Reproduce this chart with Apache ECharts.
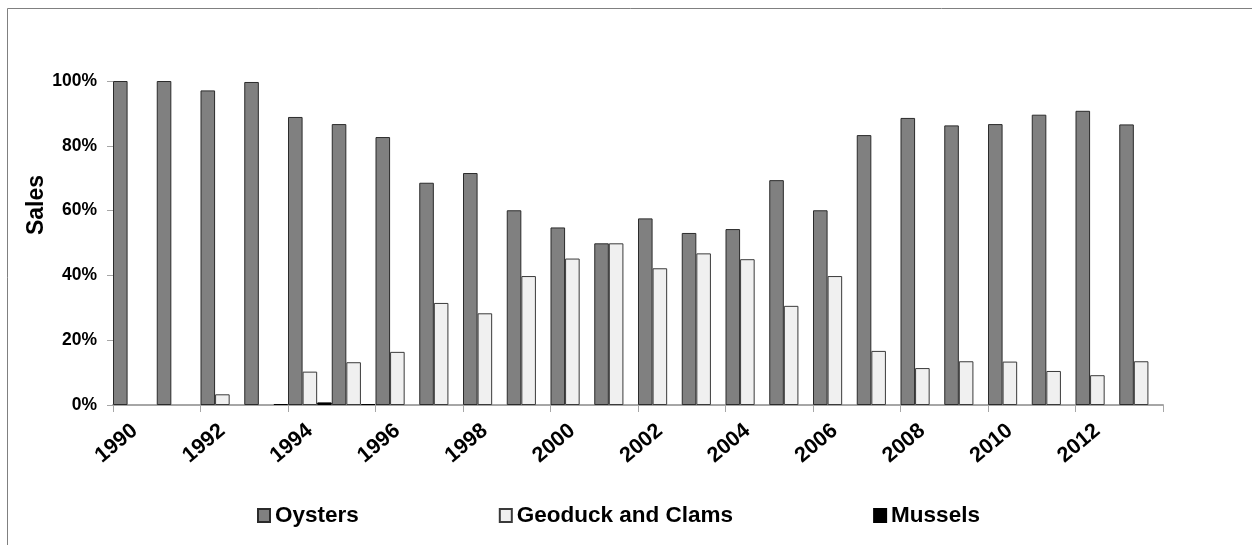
<!DOCTYPE html>
<html>
<head>
<meta charset="utf-8">
<script src="https://cdn.jsdelivr.net/npm/echarts@6/dist/echarts.min.js"></script>
<style>
  html, body { margin: 0; padding: 0; background: #fff; }
  #chart { width: 1252px; height: 545px; }
</style>
</head>
<body>
<div id="chart"></div>
<script>
const years = ['1990', '1991', '1992', '1993', '1994', '1995', '1996', '1997', '1998', '1999', '2000', '2001',
  '2002', '2003', '2004', '2005', '2006', '2007', '2008', '2009', '2010', '2011', '2012', '2013']

const oysters = [100, 100, 97.1, 99.7, 88.9, 86.7, 82.7, 68.6, 71.6, 60.1, 54.8, 49.9,
  57.6, 53.1, 54.3, 69.4, 60.1, 83.3, 88.6, 86.3, 86.7, 89.6, 90.8, 86.6]

const geoduckClams = [0, 0, 3.3, 0, 10.3, 13.2, 16.4, 31.5, 28.3, 39.8, 45.2, 49.9,
  42.2, 46.8, 45.0, 30.6, 39.8, 16.7, 11.4, 13.5, 13.4, 10.5, 9.2, 13.5]

const mussels = [0, 0, 0, 0.3, 0.8, 0.3, 0, 0, 0, 0, 0, 0,
  0, 0, 0, 0, 0, 0, 0, 0, 0, 0, 0, 0]

const yTicks = [0, 20, 40, 60, 80, 100]

const FONT = "'Liberation Sans', Arial, sans-serif"

const chart = echarts.init(document.getElementById('chart'))

// zero shares are left empty, as in the original (no outline on the axis)
const makeBar = (name, data, fill, border) => ({
  name,
  type: 'bar',
  data: data.map((v) => (v === 0 ? null : v)),
  barGap: '0%',
  barCategoryGap: '0%',
  itemStyle: { color: fill, borderColor: border, borderWidth: 1 },
  emphasis: { disabled: true }
})

chart.setOption({
  animation: false,
  backgroundColor: '#fff',
  graphic: [{
    type: 'rect',
    silent: true,
    shape: { x: 7.5, y: 8.5, width: 1300, height: 600 },
    style: { fill: 'none', stroke: '#808080', lineWidth: 1 }
  }],
  grid: { left: 113, right: 89, top: 81, bottom: 140 },
  legend: {
    left: 252,
    top: 499,
    itemWidth: 12,
    itemHeight: 13,
    itemGap: 140,
    icon: 'rect',
    textStyle: { fontFamily: FONT, fontWeight: 'bold', fontSize: 22.5, color: '#000' },
    data: ['Oysters', 'Geoduck and Clams', 'Mussels']
  },
  xAxis: {
    type: 'category',
    data: years,
    boundaryGap: true,
    axisLine: { show: true, lineStyle: { color: '#a6a6a6', width: 2 } },
    axisTick: { show: true, interval: 1, length: 7, lineStyle: { color: '#a6a6a6', width: 1 } },
    axisLabel: {
      interval: 1,
      rotate: 40,
      margin: 23,
      fontFamily: FONT,
      fontWeight: 'bold',
      fontSize: 21.5,
      color: '#000'
    },
    splitLine: { show: false }
  },
  yAxis: {
    type: 'value',
    min: yTicks[0],
    max: yTicks[yTicks.length - 1],
    interval: yTicks[1] - yTicks[0],
    name: 'Sales',
    nameLocation: 'middle',
    nameMoveOverlap: false,
    nameGap: 65,
    nameRotate: 90,
    nameTextStyle: {
      fontFamily: FONT,
      fontWeight: 'bold',
      fontSize: 23,
      color: '#000',
      padding: [0, 0, 0, 76]
    },
    axisLine: { show: false },
    axisTick: { show: true, length: 6, lineStyle: { color: '#a6a6a6' } },
    axisLabel: {
      formatter: '{value}%',
      margin: 16,
      fontFamily: FONT,
      fontWeight: 'bold',
      fontSize: 17.5,
      color: '#000'
    },
    splitLine: { show: false }
  },
  series: [
    makeBar('Oysters', oysters, '#808080', '#2b2b2b'),
    makeBar('Geoduck and Clams', geoduckClams, '#f0f0f0', '#3a3a3a'),
    makeBar('Mussels', mussels, '#000000', '#000000')
  ]
})

window.addEventListener('resize', () => chart.resize())
</script>
</body>
</html>
